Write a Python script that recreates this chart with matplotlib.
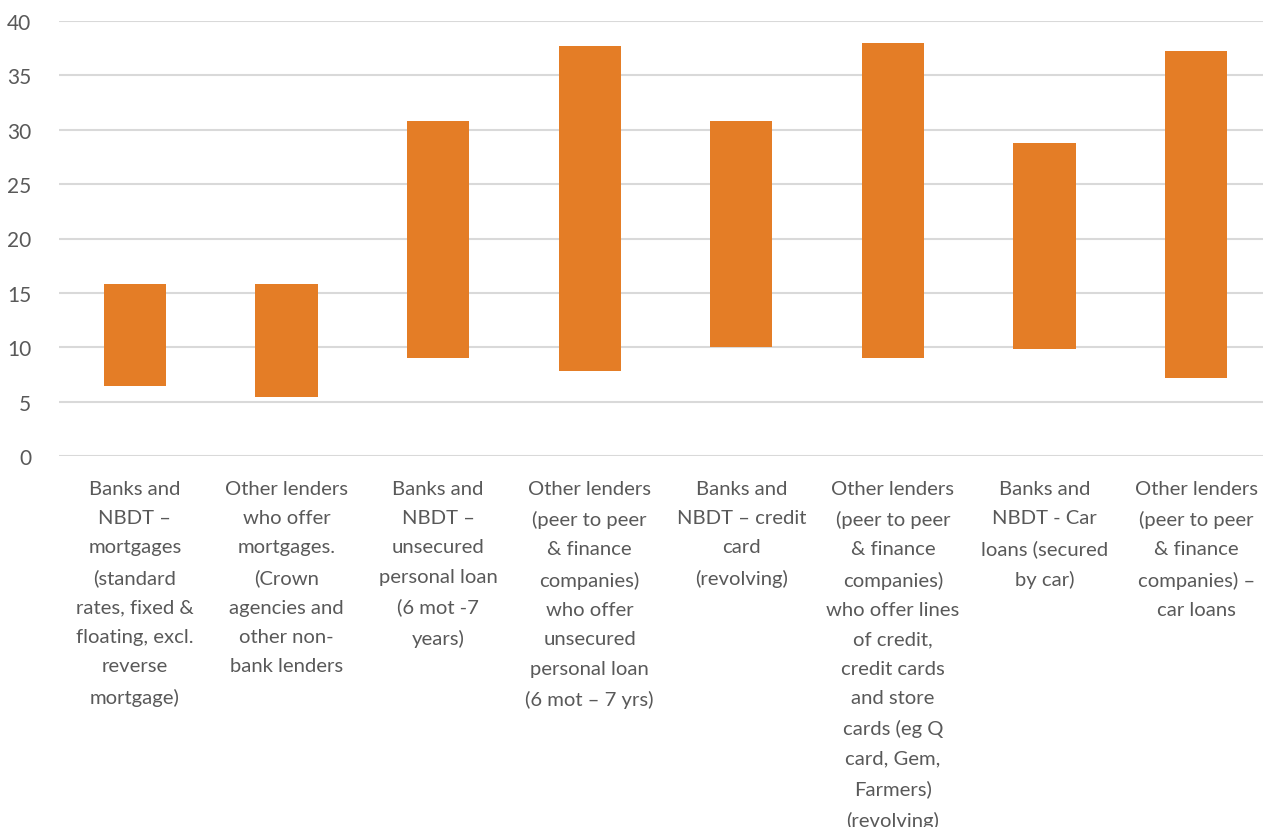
"""Floating range bars: interest rate ranges by lender / product type."""

import matplotlib

matplotlib.use("Agg")
import matplotlib.pyplot as plt  # noqa: E402

categories = [
    "Banks and\nNBDT –\nmortgages\n(standard\nrates, fixed &\nfloating, excl.\nreverse\nmortgage)",
    "Other lenders\nwho offer\nmortgages.\n(Crown\nagencies and\nother non-\nbank lenders",
    "Banks and\nNBDT –\nunsecured\npersonal loan\n(6 mot -7\nyears)",
    "Other lenders\n(peer to peer\n& finance\ncompanies)\nwho offer\nunsecured\npersonal loan\n(6 mot – 7 yrs)",
    "Banks and\nNBDT – credit\ncard\n(revolving)",
    "Other lenders\n(peer to peer\n& finance\ncompanies)\nwho offer lines\nof credit,\ncredit cards\nand store\ncards (eg Q\ncard, Gem,\nFarmers)\n(revolving)",
    "Banks and\nNBDT - Car\nloans (secured\nby car)",
    "Other lenders\n(peer to peer\n& finance\ncompanies) –\ncar loans",
]
low = [6.4, 5.4, 9.0, 7.8, 10.0, 9.0, 9.8, 7.2]
high = [15.8, 15.8, 30.8, 37.7, 30.8, 38.0, 28.8, 37.2]
yticks = [0, 5, 10, 15, 20, 25, 30, 35, 40]

plt.rcParams["font.family"] = ["Lato", "DejaVu Sans"]

W, H = 1263, 828
fig = plt.figure(figsize=(W / 100, H / 100), dpi=100)
# plot area runs past the right edge, as in the cropped original
ax = fig.add_axes([59 / W, (H - 457) / H, (1272 - 59) / W, 435 / H])

x = list(range(len(categories)))
heights = [h - l for h, l in zip(high, low)]
ax.bar(x, heights, bottom=low, width=0.41, color="#E47D26", zorder=3)

ax.set_xlim(-0.5, len(categories) - 0.5)
ax.set_ylim(0, 40)
ax.set_yticks(yticks)
ax.set_yticklabels([str(v) for v in yticks], fontsize=15, color="#595959")
ax.yaxis.grid(True, color="#D9D9D9", lw=1.5, zorder=0)
ax.tick_params(axis="y", length=0, pad=20)
ax.tick_params(axis="x", length=0, pad=17)
ax.set_xticks(x)
ax.set_xticklabels(categories, fontsize=14.6, color="#595959",
                   va="top", ha="center")
for t in ax.get_xticklabels():
    t.set_linespacing(1.88)
for s in ax.spines.values():
    s.set_visible(False)

fig.savefig("out.png", dpi=100)
